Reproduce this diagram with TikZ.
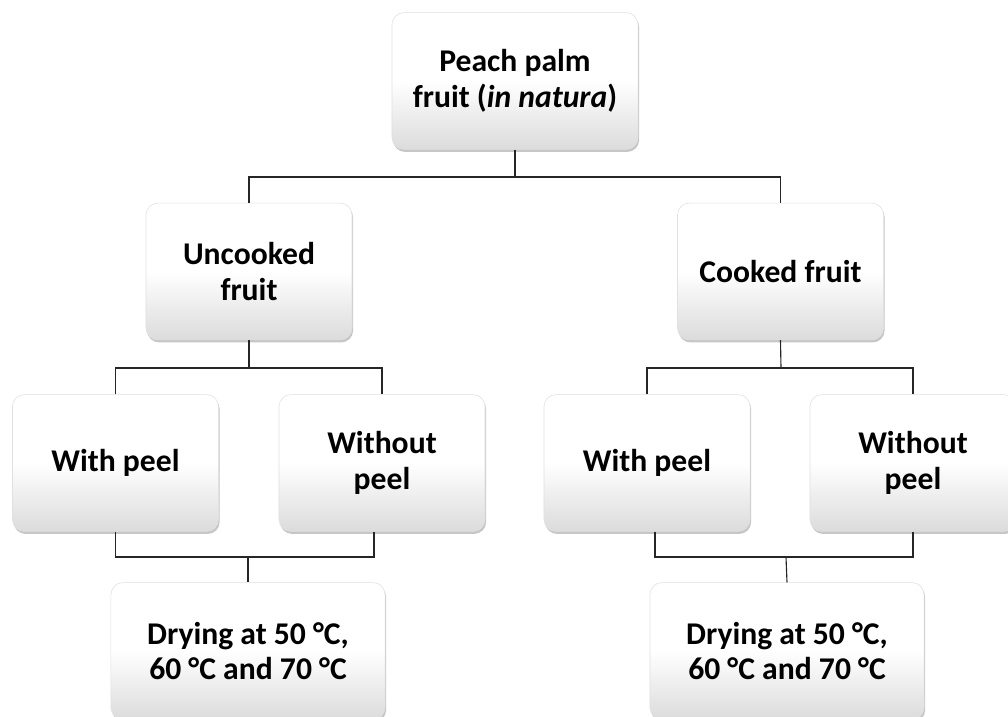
\documentclass[tikz,border=0pt]{standalone}
\usepackage{fontspec}
\setmainfont{Carlito}
\usepackage{tikz}
\usetikzlibrary{shadows}

\tikzset{
  box/.style={rectangle, rounded corners=0.3cm, draw=black!12, thin,
    top color=white, bottom color=black!14, middle color=white,
    drop shadow={shadow xshift=0.8pt, shadow yshift=-1.8pt, opacity=0.45},
    minimum width=5.15cm, minimum height=3.42cm, align=center,
    font=\fontsize{22.5}{25.5}\selectfont\bfseries},
  wide/.style={box, minimum width=6.85cm},
  link/.style={draw=black!85, line width=0.8pt}
}

\begin{document}
\begin{tikzpicture}[x=0.025cm,y=-0.025cm]
  \useasboundingbox (0,0) rectangle (1008,717);

  \node[box, minimum width=6.15cm] (fruit) at (515,81) {Peach palm\\fruit (\textit{in natura})};
  \node[box] (uncooked) at (249,271.5) {Uncooked\\fruit};
  \node[box] (cooked) at (780.5,271.5) {Cooked fruit};
  \node[box] (uwith) at (115.5,463) {With peel};
  \node[box] (uwithout) at (382,463) {Without\\peel};
  \node[box] (cwith) at (647,463) {With peel};
  \node[box] (cwithout) at (913,463) {Without\\peel};
  \node[wide] (udry) at (248,651) {Drying at 50 °C,\\60 °C and 70 °C};
  \node[wide] (cdry) at (787,651) {Drying at 50 °C,\\60 °C and 70 °C};

  \coordinate (top) at (515,177);
  \coordinate (usplit) at (249,368);
  \coordinate (csplit) at (781,368);
  \coordinate (ujoin) at (248,557);
  \coordinate (cjoin) at (786,557);

  \path[link] (fruit.south) -- (top);
  \path[link] (uncooked.north) |- (top) -| (cooked.north);
  \path[link] (uncooked.south) -- (usplit);
  \path[link] (uwith.north) |- (usplit) -| (uwithout.north);
  \path[link] (cooked.south) -- (csplit);
  \path[link] (cwith.north) |- (csplit) -| (cwithout.north);
  \path[link] (uwith.south) |- (ujoin) -| ([xshift=-0.2cm]uwithout.south);
  \path[link] (ujoin) -- (udry.north);
  \path[link] ([xshift=0.2cm]cwith.south) |- (cjoin) -| (cwithout.south);
  \path[link] (cjoin) -- (cdry.north);
\end{tikzpicture}
\end{document}
